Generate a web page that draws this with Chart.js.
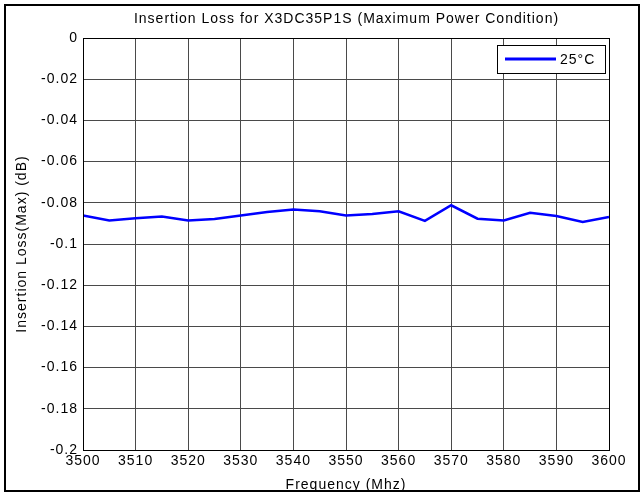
<!DOCTYPE html>
<html>
<head>
<meta charset="utf-8">
<script src="https://cdn.jsdelivr.net/npm/chart.js@4.4.1/dist/chart.umd.min.js"></script>
<style>
  html,body{margin:0;padding:0;background:#fff;}
  #wrap{position:relative;width:644px;height:495px;}
</style>
</head>
<body>
<div id="wrap"><canvas id="c" width="644" height="495"></canvas></div>
<script>
const frequencies = [3500,3505,3510,3515,3520,3525,3530,3535,3540,3545,3550,3555,3560,3565,3570,3575,3580,3585,3590,3595,3600];
const loss25C = [-0.0862,-0.0886,-0.0875,-0.0867,-0.0886,-0.0879,-0.0862,-0.0845,-0.0833,-0.0841,-0.0862,-0.0854,-0.0841,-0.0888,-0.0812,-0.0877,-0.0886,-0.0848,-0.0864,-0.0893,-0.0869];
const seriesLabel = "25°C";
const xTicks = [3500,3510,3520,3530,3540,3550,3560,3570,3580,3590,3600];
const yTicks = [0,-0.02,-0.04,-0.06,-0.08,-0.1,-0.12,-0.14,-0.16,-0.18,-0.2];
const titleText = "Insertion Loss for X3DC35P1S (Maximum Power Condition)";
const xTitle = "Frequency (Mhz)";
const yTitle = "Insertion Loss(Max) (dB)";

const FONT = "'Liberation Sans', Arial, sans-serif";

const framePlugin = {
  id: 'frame',
  beforeDraw(chart){
    const ctx = chart.ctx;
    ctx.fillStyle = '#fff';
    ctx.fillRect(0,0,chart.width,chart.height);
    if ('letterSpacing' in ctx) ctx.letterSpacing = '1px';
  },
  afterDraw(chart){
    const ctx = chart.ctx, a = chart.chartArea;
    ctx.save();
    // title, centred over the axes
    ctx.fillStyle = '#000';
    ctx.font = "14px " + FONT;
    ctx.textAlign = 'center';
    ctx.textBaseline = 'middle';
    ctx.fillText(titleText, (a.left + a.right) / 2 + 0.5, 19);
    // axes box
    ctx.strokeStyle = '#000';
    ctx.lineWidth = 1;
    ctx.strokeRect(Math.round(a.left)+0.5, Math.round(a.top)+0.5, Math.round(a.right-a.left), Math.round(a.bottom-a.top));
    // outer frame
    ctx.lineWidth = 2;
    ctx.strokeRect(5, 5, 634, 486);
    // legend
    const bx = a.right - 112, by = a.top + 7, bw = 108, bh = 28;
    ctx.fillStyle = '#fff';
    ctx.fillRect(bx, by, bw, bh);
    ctx.lineWidth = 1;
    ctx.strokeStyle = '#000';
    ctx.strokeRect(Math.round(bx)+0.5, Math.round(by)+0.5, bw, bh);
    const ds = chart.data.datasets[0];
    ctx.strokeStyle = ds.borderColor;
    ctx.lineWidth = 3;
    ctx.beginPath();
    ctx.moveTo(bx+8, by+bh/2);
    ctx.lineTo(bx+59, by+bh/2);
    ctx.stroke();
    ctx.fillStyle = '#000';
    ctx.textAlign = 'left';
    ctx.fillText(ds.label, bx+63, by+bh/2+1);
    ctx.restore();
  }
};

function fmt(v){ return String(parseFloat(Number(v).toFixed(3))); }

new Chart(document.getElementById('c'), {
  type: 'line',
  data: {
    datasets: [{
      label: seriesLabel,
      data: frequencies.map((f,i)=>({x:f, y:loss25C[i]})),
      borderColor: '#0000ff',
      borderWidth: 2.5,
      pointRadius: 0,
      tension: 0,
      fill: false
    }]
  },
  options: {
    responsive: false,
    animation: false,
    devicePixelRatio: 1,
    layout: { padding: { left: 0, right: 35, top: 38, bottom: 0 } },
    plugins: {
      legend: { display: false },
      tooltip: { enabled: false },
      title: { display: false }
    },
    scales: {
      x: {
        type: 'linear',
        min: 3500, max: 3600,
        afterBuildTicks(s){ s.ticks = xTicks.map(v=>({value:v})); },
        afterFit(s){ s.height = 45; },
        grid: { color: '#4a4a4a', lineWidth: 1, drawTicks: false },
        border: { display: true, color: '#000' },
        ticks: {
          color: '#000', padding: 3,
          font: { family: FONT, size: 14 },
          maxRotation: 0, autoSkip: false,
          callback: v => String(v)
        },
        title: {
          display: true, text: xTitle, color: '#000',
          font: { family: FONT, size: 14 },
          padding: { top: 0, bottom: 1 }
        }
      },
      y: {
        type: 'linear',
        min: -0.2, max: 0,
        afterBuildTicks(s){ s.ticks = yTicks.slice().reverse().map(v=>({value:v})); },
        afterFit(s){ s.width = 83; },
        grid: { color: '#4a4a4a', lineWidth: 1, drawTicks: false },
        border: { display: true, color: '#000' },
        ticks: {
          color: '#000', padding: 5,
          font: { family: FONT, size: 14 },
          autoSkip: false,
          callback: v => fmt(v)
        },
        title: {
          display: true, text: yTitle, color: '#000',
          font: { family: FONT, size: 14 },
          padding: { top: 14, bottom: 0 }
        }
      }
    }
  },
  plugins: [framePlugin]
});
</script>
</body>
</html>
